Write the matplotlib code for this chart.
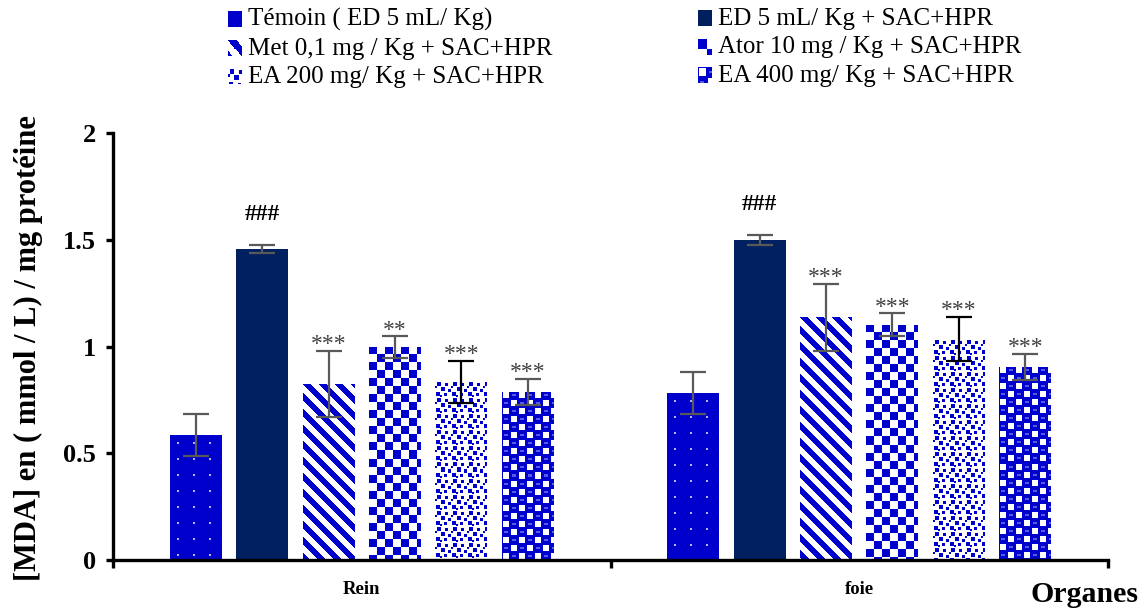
import numpy as np
import matplotlib
matplotlib.use("Agg")
import matplotlib.pyplot as plt
from matplotlib.patches import Patch
from matplotlib.legend_handler import HandlerBase
from matplotlib.image import BboxImage
from matplotlib.transforms import Bbox, TransformedBbox

# ---------------- data ----------------
organs = ["Rein", "foie"]
series = ["Témoin ( ED 5 mL/ Kg)", "ED 5 mL/ Kg + SAC+HPR",
          "Met 0,1 mg / Kg + SAC+HPR", "Ator 10 mg / Kg + SAC+HPR",
          "EA 200 mg/ Kg + SAC+HPR", "EA 400 mg/ Kg + SAC+HPR"]
rein = [0.585, 1.457, 0.824, 0.998, 0.834, 0.787]
rein_err = [0.10, 0.02, 0.155, 0.05, 0.10, 0.06]
foie = [0.782, 1.499, 1.138, 1.101, 1.035, 0.904]
foie_err = [0.097, 0.025, 0.157, 0.054, 0.103, 0.061]
rein_sig = ["", "###", "***", "**", "***", "***"]
foie_sig = ["", "###", "***", "***", "***", "***"]
yticks = [0, 0.5, 1, 1.5, 2]
ytick_labels = ["0", "0.5", "1", "1.5", "2"]
ylabel = "[MDA] en ( mmol / L) / mg protéine"
xlabel = "Organes"

# ---------------- styles ----------------
plt.rcParams["font.family"] = ["Liberation Serif", "DejaVu Serif"]
BLUE = np.array([0.0, 0.0, 0.80])
NAVY = "#002060"
WHITE = np.array([1.0, 1.0, 1.0])
LIGHT = np.array([0.72, 0.72, 1.0])
MID = np.array([0.35, 0.35, 0.92])


def tile_rgb(mask, fg=BLUE, bg=WHITE):
    m = mask[..., None].astype(float)
    return m * fg + (1 - m) * bg


r, c = np.mgrid[0:16, 0:16]
# Témoin: blue with small light dots
t0 = np.ones((16, 16, 3)) * BLUE
t0[7:9, 7:9] = LIGHT
# Met: diagonal stripes
t2 = tile_rgb(((c - r) % 16) < 8)
# Ator: checkerboard
t3 = tile_rgb(((r // 8 + c // 8) % 2) == 0)
# EA 200: confetti
m4 = np.zeros((16, 16), bool)
for (r0, c0, s) in [(1, 2, 4), (2, 10, 3), (6, 6, 4), (8, 13, 3), (11, 1, 4), (12, 9, 3), (5, 0, 2), (14, 5, 2)]:
    m4[r0:r0 + s, c0:c0 + s] = True
t4 = tile_rgb(m4)
# EA 400: blue with staggered white cells and blue ovals
m5 = np.ones((16, 16), bool)
m5[1:7, 1:7] = False
m5[9:15, 9:15] = False
t5 = tile_rgb(m5)
t5[3:5, 10:14] = MID
t5[11:13, 2:6] = MID
tiles = [t0, None, t2, t3, t4, t5]
err_colors = ["#595959", "#595959", "#595959", "#595959", "black", "#595959"]


def texture(tile, h, w):
    reps = (h // 16 + 2, w // 16 + 2, 1)
    return np.tile(tile, reps)[:h, :w]


# ---------------- figure ----------------
fig = plt.figure(figsize=(11.4, 6.09), dpi=100)
ax = fig.add_axes([113 / 1140, 49 / 609, 995 / 1140, 427 / 609])
ax.set_xlim(-0.5, 1.5)
ax.set_ylim(0, 2)

x = np.arange(len(organs))
width = 0.1045
step = 0.1335
for i in range(len(series)):
    vals = [rein[i], foie[i]]
    errs = [rein_err[i], foie_err[i]]
    sigs = [rein_sig[i], foie_sig[i]]
    pos = x + (i - 2.5) * step
    fc = NAVY if i == 1 else BLUE
    bars = ax.bar(pos, vals, width, color=fc, linewidth=0, zorder=2)
    if tiles[i] is not None:
        for b in bars:
            bb = b.get_window_extent()
            h = max(int(round(bb.height)), 1)
            w = max(int(round(bb.width)), 1)
            img = texture(tiles[i], h, w)
            im = ax.imshow(img, extent=(b.get_x(), b.get_x() + b.get_width(), 0, b.get_height()),
                           origin="upper", interpolation="nearest", aspect="auto", zorder=2.5)
            im.set_clip_path(b)
    ax.errorbar(pos, vals, yerr=errs, fmt="none", ecolor=err_colors[i], elinewidth=1.6,
                capsize=9.5, capthick=1.6, zorder=3)
    for p, v, e, s in zip(pos, vals, errs, sigs):
        if not s:
            continue
        if s.startswith("#"):
            ax.text(p, v + e + 0.14, s, ha="center", va="center", fontsize=17,
                    fontweight="bold", color="black", zorder=4)
        else:
            ax.text(p, v + e - 0.02, s, ha="center", va="bottom", fontsize=17,
                    color="#404040", zorder=4)

ax.set_xlim(-0.5, 1.5)
ax.set_ylim(0, 2)
for sp in ["top", "right"]:
    ax.spines[sp].set_visible(False)
for sp in ["left", "bottom"]:
    ax.spines[sp].set_linewidth(2.4)
ax.set_yticks(yticks)
ax.set_yticklabels(ytick_labels, fontsize=19, fontweight="bold")
ax.tick_params(axis="y", direction="out", length=5, width=2.4, pad=7)
ax.set_xticks([-0.5, 0.5, 1.5])
ax.set_xticklabels([])
ax.tick_params(axis="x", which="major", direction="out", length=6, width=2.4)
ax.set_xticks(x, minor=True)
ax.set_xticklabels(organs, minor=True, fontsize=13.5, fontweight="bold")
ax.tick_params(axis="x", which="minor", length=0, pad=15)

fig.text(28 / 1140, 1 - 348 / 609, ylabel, rotation=90, ha="center", va="center",
         fontsize=22, fontweight="bold")
fig.text(1139 / 1140, 1 - 595 / 609, xlabel, ha="right", va="center",
         fontsize=21.5, fontweight="bold")


# ---------------- legend ----------------
class ImageHandler(HandlerBase):
    def __init__(self, arr):
        super().__init__()
        self.arr = arr

    def create_artists(self, legend, orig_handle, xdescent, ydescent, width, height, fontsize, trans):
        bb = Bbox.from_bounds(xdescent, ydescent, width, height)
        tbb = TransformedBbox(bb, trans)
        image = BboxImage(tbb, interpolation="nearest")
        image.set_data(self.arr)
        return [image]


legend_imgs = []
for i in range(len(series)):
    if tiles[i] is None:
        arr = np.ones((13, 13, 3)) * np.array([0.0, 0.125, 0.376])
    elif i == 0:
        arr = np.ones((13, 13, 3)) * BLUE
    else:
        arr = texture(tiles[i], 13, 13)
    legend_imgs.append(arr)

handles = [Patch(label=s) for s in series]
hmap = {h: ImageHandler(a) for h, a in zip(handles, legend_imgs)}
kw = dict(frameon=False, fontsize=18, handlelength=0.55, handleheight=0.55,
          handletextpad=0.25, labelspacing=0.26, borderpad=0, borderaxespad=0, loc="upper left")
leg1 = fig.legend([handles[0], handles[2], handles[4]], [series[0], series[2], series[4]],
                  handler_map=hmap, bbox_to_anchor=(228 / 1140, 1 - 8 / 609), **kw)
leg2 = fig.legend([handles[1], handles[3], handles[5]], [series[1], series[3], series[5]],
                  handler_map=hmap, bbox_to_anchor=(698 / 1140, 1 - 8 / 609), **kw)

fig.savefig("out.png", dpi=100)
